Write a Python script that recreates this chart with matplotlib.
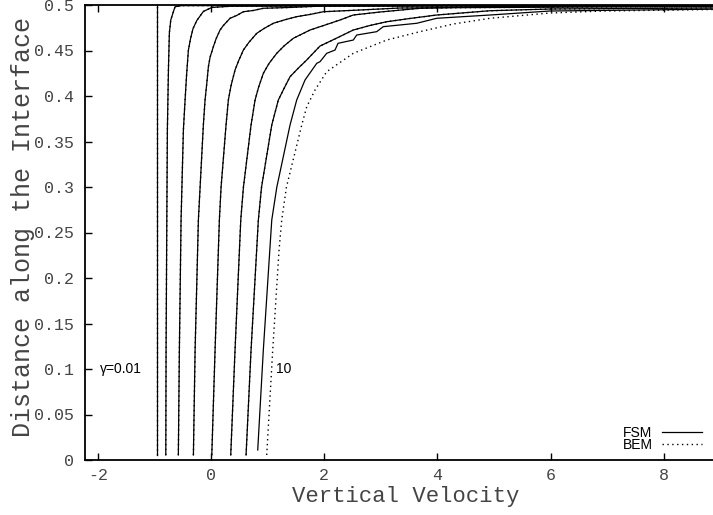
import matplotlib
matplotlib.use("Agg")
import matplotlib.pyplot as plt

plt.rcParams['axes.unicode_minus'] = False

# FSM curves (y = distance along interface, x = vertical velocity)
y_c1 = [0.0055, 0.12, 0.26, 0.36, 0.45, 0.5]
x_c1 = [-0.961, -0.961, -0.961, -0.961, -0.961, -0.961]

y_c2 = [0.0055, 0.1209, 0.2637, 0.3626, 0.43, 0.4692, 0.4835, 0.4926, 0.4981, 0.4993, 0.4999]
x_c2 = [-0.802, -0.797, -0.784, -0.774, -0.755, -0.739, -0.714, -0.668, -0.638, -0.52, 9.0]

y_c3 = [0.0055, 0.1209, 0.2637, 0.3626, 0.3956, 0.4226, 0.4501, 0.4632, 0.4742, 0.4829,
        0.4929, 0.4973, 0.4986, 0.4994]
x_c3 = [-0.580, -0.562, -0.532, -0.491, -0.461, -0.435, -0.403, -0.364, -0.320, -0.254,
        -0.138, 0.011, 0.334, 9.0]

y_c4 = [0.0055, 0.1209, 0.2637, 0.3681, 0.3956, 0.4135, 0.4322, 0.4427, 0.4542, 0.4629,
        0.4725, 0.4775, 0.4854, 0.4885, 0.4926, 0.4940, 0.4964, 0.4973, 0.4989, 0.4991]
x_c4 = [-0.314, -0.284, -0.226, -0.138, -0.108, -0.078, -0.049, -0.019, 0.039, 0.087,
        0.157, 0.216, 0.334, 0.452, 0.569, 0.746, 0.922, 1.394, 1.977, 9.0]

y_c5 = [0.0055, 0.1209, 0.2637, 0.2997, 0.3681, 0.3956, 0.4116, 0.4286, 0.4391, 0.4505, 0.4592,
        0.4689, 0.4742, 0.4799, 0.4835, 0.4872, 0.4896, 0.4926, 0.4945, 0.4967, 0.4973, 0.4984]
x_c5 = [0.011, 0.069, 0.145, 0.175, 0.263, 0.304, 0.352, 0.422, 0.488, 0.569, 0.670,
        0.806, 0.935, 1.099, 1.288, 1.512, 1.747, 1.982, 2.630, 3.337, 5.104, 9.0]

y_c6 = [0.0055, 0.1209, 0.2637, 0.2997, 0.3681, 0.3956, 0.4094, 0.4249, 0.4358, 0.4469, 0.4550,
        0.4634, 0.4676, 0.4725, 0.4786, 0.4835, 0.4890, 0.4923, 0.4964, 0.4984, 0.4992]
x_c6 = [0.346, 0.422, 0.523, 0.570, 0.705, 0.776, 0.837, 0.922, 1.023, 1.159, 1.288,
        1.452, 1.588, 1.747, 2.042, 2.277, 2.512, 2.983, 3.691, 4.928, 9.0]

y_c7 = [0.0055, 0.1209, 0.2637, 0.2997, 0.3681, 0.3956, 0.4083, 0.4212, 0.4303, 0.4396, 0.4549,
        0.4633, 0.4725, 0.4775, 0.4816, 0.4852, 0.4890, 0.4937, 0.4956, 0.4968]
x_c7 = [0.617, 0.705, 0.834, 0.890, 1.071, 1.187, 1.288, 1.394, 1.535, 1.689, 1.924,
        2.207, 2.512, 2.807, 3.102, 3.512, 3.986, 4.928, 5.988, 9.0]

# gamma = 10, FSM (stair-stepped near the top)
y_c8 = [0.011, 0.1209, 0.2637, 0.2997, 0.3681, 0.3956, 0.4176, 0.4359, 0.4377, 0.4469, 0.4505,
        0.4579, 0.4615, 0.467, 0.4707, 0.4762, 0.4799, 0.4854, 0.4890, 0.4934, 0.4955]
x_c8 = [0.823, 0.922, 1.071, 1.160, 1.394, 1.512, 1.659, 1.866, 1.924, 2.042, 2.189,
        2.242, 2.512, 2.572, 2.926, 3.042, 3.633, 3.986, 4.928, 5.988, 9.0]

# gamma = 10, BEM (the other BEM curves sit on top of the FSM ones)
y_bem10 = [0.0055, 0.1209, 0.2308, 0.2637, 0.2997, 0.3681, 0.3882, 0.4066, 0.4267, 0.4469,
           0.4615, 0.4707, 0.4791, 0.4854, 0.4912, 0.4934, 0.4952]
x_bem10 = [0.982, 1.088, 1.200, 1.247, 1.330, 1.601, 1.689, 1.836, 2.042, 2.512,
           3.102, 3.691, 4.279, 4.928, 5.988, 6.924, 9.0]

fsm_x = [x_c1, x_c2, x_c3, x_c4, x_c5, x_c6, x_c7, x_c8]
fsm_y = [y_c1, y_c2, y_c3, y_c4, y_c5, y_c6, y_c7, y_c8]
bem_x = [x_c1, x_c2, x_c3, x_c4, x_c5, x_c6, x_c7, x_bem10]
bem_y = [y_c1, y_c2, y_c3, y_c4, y_c5, y_c6, y_c7, y_bem10]

xticks = [-2, 0, 2, 4, 6, 8]
yticks = [0, 0.05, 0.1, 0.15, 0.2, 0.25, 0.3, 0.35, 0.4, 0.45, 0.5]
ytick_labels = ['0', '0.05', '0.1', '0.15', '0.2', '0.25', '0.3', '0.35', '0.4', '0.45', '0.5']

mono = 'Liberation Mono'
sans = 'Liberation Sans'
txt_grey = '#444444'

fig = plt.figure(figsize=(7.13, 5.15), dpi=100)
ax = fig.add_axes([85 / 713, 55 / 515, 628 / 713, 455 / 515])

for i in range(len(fsm_x)):
    ax.plot(fsm_x[i], fsm_y[i], color='black', lw=0.9,
            label='FSM' if i == 0 else None)
for i in range(len(bem_x)):
    ax.plot(bem_x[i], bem_y[i], color='black', lw=1.0, linestyle=(0, (1, 2.5)),
            label='BEM' if i == 0 else None)

ax.set_xlim(-2.23, 8.87)
ax.set_ylim(0, 0.5)
ax.set_xticks(xticks)
ax.set_xticklabels([str(t) for t in xticks], fontfamily=mono, fontsize=12, color=txt_grey)
ax.set_yticks(yticks)
ax.set_yticklabels(ytick_labels, fontfamily=mono, fontsize=12, color=txt_grey)
ax.tick_params(direction='in', length=5, width=1, top=True, right=False)
ax.tick_params(axis='x', pad=6)
ax.tick_params(axis='y', pad=8)

for side in ['left', 'bottom', 'top']:
    ax.spines[side].set_linewidth(1.3)
ax.spines['right'].set_visible(False)

ax.set_xlabel('Vertical Velocity', fontfamily=mono, fontsize=16, color=txt_grey)
ax.set_ylabel('Distance along the Interface', fontfamily=mono, fontsize=18, color=txt_grey)
ax.xaxis.set_label_coords(0.51, -0.058)
ax.yaxis.set_label_coords(-0.079, 0.512)

# curve labels
ax.text(-1.963, 0.1, 'γ=0.01', fontfamily=sans, fontsize=10, va='center', ha='left')
ax.text(1.141, 0.1, '10', fontfamily=sans, fontsize=10, va='center', ha='left')

leg = ax.legend(loc='lower right', frameon=False, prop={'family': sans, 'size': 10},
                markerfirst=False, handlelength=2.9, handletextpad=0.7,
                labelspacing=-0.1, borderaxespad=0.0, bbox_to_anchor=(0.992, 0.005))

fig.savefig('out.png', dpi=100)
